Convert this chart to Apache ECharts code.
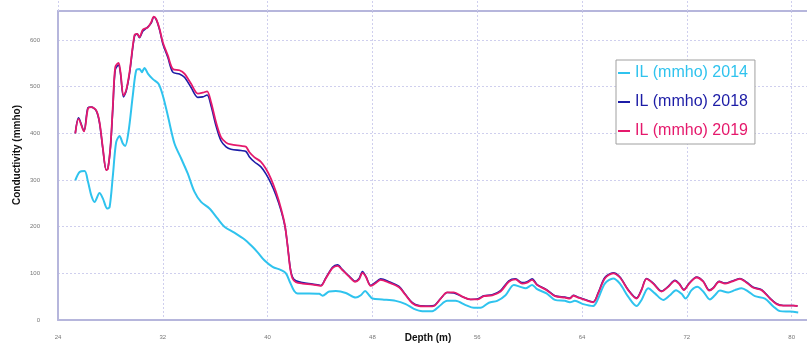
<!DOCTYPE html>
<html>
<head>
<meta charset="utf-8">
<script src="https://cdn.jsdelivr.net/npm/echarts@6/dist/echarts.min.js"></script>
<style>
  html, body { margin: 0; padding: 0; background: #ffffff; }
  #chart { width: 807px; height: 349px; }
</style>
</head>
<body>
<div id="chart"></div>
<script>
// Conductivity logs (mmho) against depth (m)
const depth2014 = [
  25.32, 25.65, 26.03, 26.29, 26.54, 26.79, 27.17, 27.43, 27.76, 27.94,
  28.19, 28.44, 28.70, 28.95, 29.13, 29.38, 29.71, 29.97, 30.22, 30.40,
  30.60, 30.86, 31.24, 31.67, 32.00, 32.38, 32.89, 33.40, 33.90, 34.41,
  34.92, 35.56, 36.19, 36.70, 37.46, 38.22, 38.73, 39.24, 39.75, 40.38,
  41.02, 41.40, 41.69, 42.03, 42.29, 43.17, 43.94, 44.19, 44.70, 45.21,
  45.97, 46.73, 47.11, 47.44, 47.75, 48.00, 48.76, 49.78, 50.54, 51.17,
  51.81, 52.57, 53.08, 53.71, 54.35, 55.11, 55.75, 56.25, 56.89, 57.52,
  58.16, 58.79, 59.30, 59.68, 60.19, 60.57, 61.29, 61.93, 62.69, 63.07,
  63.45, 64.09, 64.85, 65.23, 65.74, 66.38, 66.89, 67.52, 68.16, 68.54,
  69.05, 69.56, 70.20, 70.71, 71.17, 71.60, 71.90, 72.36, 72.79, 73.25,
  73.76, 74.14, 74.52, 75.16, 75.67, 76.18, 76.69, 77.20, 77.96, 78.60,
  79.11, 79.87, 80.50
];
const il2014 = [
  299, 317, 319, 296, 267, 253, 272, 260, 239, 242,
  310, 381, 394, 378, 373, 403, 481, 535, 538, 531,
  540, 528, 516, 506, 481, 438, 378, 346, 314, 275,
  253, 239, 217, 200, 187, 173, 160, 145, 128, 114,
  107, 100, 82, 62, 57, 57, 56, 52, 61, 62,
  58, 48, 53, 62, 53, 46, 44, 41, 34, 24,
  19, 19, 29, 41, 41, 32, 26, 26, 37, 41,
  53, 75, 71, 68, 75, 66, 57, 43, 41, 38,
  41, 34, 30, 46, 78, 89, 78, 50, 30, 43,
  68, 57, 43, 53, 64, 56, 46, 64, 71, 61,
  44, 53, 63, 59, 64, 68, 61, 51, 46, 29,
  19, 18, 16
];

const depth2018_19 = [
  25.32, 25.57, 25.98, 26.29, 26.54, 26.92, 27.17, 27.43, 27.68, 27.81,
  28.01, 28.19, 28.37, 28.62, 28.77, 29.00, 29.20, 29.46, 29.84, 30.04,
  30.22, 30.48, 30.86, 31.11, 31.31, 31.49, 31.75, 32.00, 32.38, 32.76,
  33.27, 33.65, 34.16, 34.67, 35.05, 35.38, 35.68, 36.06, 36.44, 36.83,
  37.20, 37.97, 38.35, 38.60, 38.98, 39.49, 39.87, 40.25, 40.63, 41.02,
  41.32, 41.52, 41.72, 41.90, 42.16, 42.67, 43.43, 44.06, 44.44, 44.95,
  45.33, 45.71, 46.22, 46.68, 46.98, 47.24, 47.49, 47.87, 48.20, 48.63,
  49.27, 50.03, 50.54, 51.05, 51.55, 52.32, 52.70, 53.21, 53.71, 54.22,
  54.86, 55.49, 56.00, 56.51, 57.14, 57.78, 58.41, 58.92, 59.43, 59.81,
  60.19, 60.57, 61.29, 61.93, 62.69, 63.07, 63.33, 63.71, 64.22, 64.85,
  65.23, 65.74, 66.38, 66.89, 67.52, 68.16, 68.54, 68.92, 69.43, 70.07,
  70.58, 71.09, 71.42, 71.77, 72.18, 72.74, 73.25, 73.71, 74.01, 74.47,
  74.91, 75.41, 76.05, 76.56, 77.07, 77.70, 78.34, 78.85, 79.36, 80.12,
  80.45
];
const il2018 = [
  400, 433, 405, 455, 456, 448, 422, 365, 322, 325,
  372, 455, 536, 546, 528, 478, 490, 528, 608, 613,
  605, 619, 628, 636, 649, 644, 622, 592, 563, 531,
  527, 520, 498, 477, 478, 482, 459, 416, 384, 371,
  366, 363, 361, 350, 339, 328, 313, 293, 268, 235,
  201, 160, 113, 92, 84, 80, 77, 74, 90, 113,
  118, 108, 94, 83, 89, 104, 94, 74, 80, 88,
  82, 72, 54, 37, 31, 30, 31, 46, 59, 58,
  50, 44, 45, 52, 54, 63, 84, 88, 80, 82,
  88, 76, 65, 52, 49, 47, 53, 49, 44, 39,
  58, 91, 101, 92, 65, 47, 65, 89, 79, 62,
  72, 85, 78, 65, 79, 92, 83, 64, 69, 83,
  79, 83, 89, 81, 70, 65, 47, 35, 31, 31,
  30
];
const il2019 = [
  400, 431, 404, 453, 456, 449, 424, 367, 321, 324,
  374, 460, 542, 551, 531, 481, 492, 531, 611, 613,
  606, 622, 627, 638, 650, 645, 624, 595, 567, 538,
  535, 528, 506, 485, 487, 490, 467, 424, 392, 380,
  376, 373, 371, 360, 349, 339, 324, 303, 275, 239,
  203, 160, 111, 89, 81, 78, 76, 73, 89, 111,
  116, 107, 93, 82, 87, 101, 93, 73, 78, 86,
  80, 70, 53, 36, 30, 29, 30, 46, 59, 59,
  50, 44, 44, 51, 53, 61, 82, 87, 78, 80,
  86, 75, 64, 51, 48, 46, 52, 48, 43, 38,
  57, 89, 100, 91, 64, 46, 64, 88, 78, 61,
  71, 84, 77, 64, 78, 91, 82, 63, 68, 82,
  78, 82, 88, 80, 69, 64, 46, 34, 31, 31,
  30
];

const seriesNames = ['IL (mmho) 2014', 'IL (mmho) 2018', 'IL (mmho) 2019'];
const seriesColors = ['#2fc3ee', '#1c1ca6', '#e5196c'];
const xTickStep = 8;
const yTickStep = 100;
const xTitle = 'Depth (m)';
const yTitle = 'Conductivity (mmho)';

const pair = (xs, ys) => xs.map((x, i) => [x, ys[i]]);

const gridColor = '#cfcfee';
const axisColor = '#b6b6dc';
const fontFamily = 'Liberation Sans, Arial, sans-serif';

const chart = echarts.init(document.getElementById('chart'), null, { renderer: 'canvas' });

chart.setOption({
  animation: false,
  backgroundColor: '#ffffff',
  grid: { left: 58, right: 0, top: 11, bottom: 29, containLabel: false, outerBoundsMode: 'none' },
  legend: {
    orient: 'vertical',
    left: 616,
    top: 60,
    padding: [5, 7, 5, 2],
    itemGap: 13,
    itemWidth: 12,
    itemHeight: 2,
    icon: 'rect',
    backgroundColor: '#ffffff',
    borderColor: '#a0a0a0',
    borderWidth: 1,
    textStyle: { fontFamily: fontFamily, fontSize: 16 },
    data: seriesNames.map((n, i) => ({ name: n, textStyle: { color: seriesColors[i] } }))
  },
  graphic: [
    {
      type: 'text', x: 428, y: 338, silent: true,
      style: { text: xTitle, align: 'center', verticalAlign: 'middle', fill: '#111',
               font: 'bold 10px ' + fontFamily }
    },
    {
      type: 'text', x: 17, y: 155, rotation: Math.PI / 2, silent: true,
      style: { text: yTitle, align: 'center', verticalAlign: 'middle', fill: '#111',
               font: 'bold 10px ' + fontFamily }
    }
  ],
  xAxis: [{
    type: 'value',
    min: 24,
    max: 81.17,
    interval: xTickStep,
    axisLine: { show: true, lineStyle: { color: axisColor, width: 2 } },
    axisTick: { show: false },
    axisLabel: { fontSize: 6, color: '#777', margin: 14, showMaxLabel: false, fontFamily: fontFamily },
    splitLine: { show: true, lineStyle: { color: gridColor, width: 1, type: [2, 2] } }
  }, {
    type: 'value',
    position: 'top',
    min: 24,
    max: 81.17,
    interval: xTickStep,
    axisLine: { show: true, onZero: false, lineStyle: { color: axisColor, width: 2 } },
    axisTick: { show: true, inside: false, length: 11, lineStyle: { color: '#cfcfee', width: 1, type: [2, 2] } },
    axisLabel: { show: false },
    splitLine: { show: false }
  }],
  yAxis: {
    type: 'value',
    min: 0,
    max: 662,
    interval: yTickStep,
    axisLine: { show: true, lineStyle: { color: axisColor, width: 2 } },
    axisTick: { show: false },
    axisLabel: { fontSize: 6, color: '#777', margin: 18, showMaxLabel: false, fontFamily: fontFamily },
    splitLine: { show: true, lineStyle: { color: gridColor, width: 1, type: [2, 2] } }
  },
  series: [
    { name: seriesNames[0], type: 'line', data: pair(depth2014, il2014), smooth: 0.3, showSymbol: false, lineStyle: { color: seriesColors[0], width: 2 }, itemStyle: { color: seriesColors[0] } },
    { name: seriesNames[1], type: 'line', data: pair(depth2018_19, il2018), smooth: 0.3, showSymbol: false, lineStyle: { color: seriesColors[1], width: 1.6 }, itemStyle: { color: seriesColors[1] } },
    { name: seriesNames[2], type: 'line', data: pair(depth2018_19, il2019), smooth: 0.3, showSymbol: false, lineStyle: { color: seriesColors[2], width: 1.8 }, itemStyle: { color: seriesColors[2] } }
  ]
});
</script>
</body>
</html>
